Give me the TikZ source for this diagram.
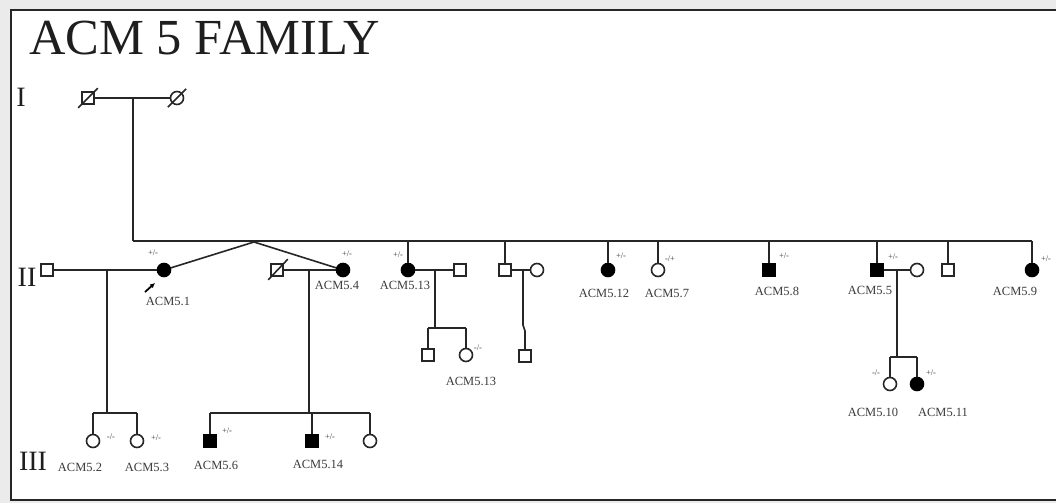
\documentclass[tikz,border=0pt]{standalone}
\usepackage{fontspec}
\setmainfont{Liberation Serif}
\usetikzlibrary{arrows.meta}
\definecolor{lc}{HTML}{262626}
\definecolor{bg}{HTML}{EBEBEB}
\definecolor{tx}{HTML}{1E1E1E}
\definecolor{lt}{HTML}{3C3C3C}
\newcommand\lblfont{\fontsize{12.5}{13}\selectfont}
\newcommand\genofont{\fontsize{8.5}{9}\selectfont}
\begin{document}
\begin{tikzpicture}[x=1pt,y=-1pt,
  ln/.style={draw=lc, line width=1.6pt},
  male/.style={rectangle, draw=lc, line width=1.6pt, fill=white, minimum size=12pt, inner sep=0pt},
  female/.style={circle, draw=lc, line width=1.6pt, fill=white, minimum size=13pt, inner sep=0pt},
  aff/.style={fill=black, draw=black},
  lbl/.style={font=\lblfont, text=lt, inner sep=0pt},
  geno/.style={font=\genofont, text=lt, inner sep=0pt},
  gen/.style={font=\fontsize{28}{28}\selectfont, text=tx, inner sep=0pt}]
\useasboundingbox (0,0) rectangle (1056,503);
\clip (0,0) rectangle (1056,503);
% background and frame
\fill[bg] (0,0) rectangle (1056,503);
\fill[white] (11,10) rectangle (1060,500);
\draw[draw=black!85, line width=2pt] (1060,10) -- (11,10) -- (11,500) -- (1060,500);
% title and generation labels
\node[anchor=base west, font=\fontsize{50.5}{51}\selectfont, text=tx, inner sep=0pt] (title) at (29,55) {ACM 5 FAMILY};
\node[gen] (g1) at (21,97) {I};
\node[gen] (g2) at (27,277) {II};
\node[gen] (g3) at (33,461) {III};

% ---------- Generation I ----------
\node[male] (i1) at (88,98) {};
\node[female] (i2) at (177,98) {};
\draw[ln] (i1) -- (i2);
\draw[ln] ([shift={(-3,3)}]i1.south west) -- ([shift={(3,-3)}]i1.north east);
\draw[ln] ([shift={(-4,4)}]i2.south west) -- ([shift={(4,-4)}]i2.north east);
\coordinate (m1) at (133,98);
\coordinate (s0) at (133,241);
\coordinate (s9) at (1032,241);
\draw[ln] (m1) -- (s0);
\draw[draw=lc, line width=2.4pt] (s0) -- (s9);

% ---------- Generation II ----------
\node[male] (h1) at (47,270) {};
\node[female, aff] (p1) at (164,270) {};
\node[male] (h4) at (277,270) {};
\node[female, aff] (p4) at (343,270) {};
\node[female, aff] (p13) at (408,270) {};
\node[male] (h13) at (460,270) {};
\node[male] (b1) at (505,270) {};
\node[female] (w1) at (537,270) {};
\node[female, aff] (p12) at (608,270) {};
\node[female] (p7) at (658,270) {};
\node[male, aff] (p8) at (769,270) {};
\node[male, aff] (p5) at (877,270) {};
\node[female] (w5) at (917,270) {};
\node[male] (b2) at (948,270) {};
\node[female, aff] (p9) at (1032,270) {};

% twin-like link
\coordinate (tw) at (254,242);
\draw[ln] (tw) -- (p1);
\draw[ln] (tw) -- (p4);
% drops from sibship
\coordinate (d13) at (408,241);
\coordinate (db1) at (505,241);
\coordinate (d12) at (608,241);
\coordinate (d7) at (658,241);
\coordinate (d8) at (769,241);
\coordinate (d5) at (877,241);
\coordinate (db2) at (948,241);
\draw[ln] (d13) -- (p13);
\draw[ln] (db1) -- (b1);
\draw[ln] (d12) -- (p12);
\draw[ln] (d7) -- (p7);
\draw[ln] (d8) -- (p8);
\draw[ln] (d5) -- (p5);
\draw[ln] (db2) -- (b2);
\draw[ln] (s9) -- (p9);
% marriages
\draw[ln] (h1) -- (p1);
\draw[ln] (h4) -- (p4);
\draw[ln] ([shift={(-2,3)}]h4.south west) -- ([shift={(4,-4)}]h4.north east);
\draw[ln] (p13) -- (h13);
\draw[ln] (b1) -- (w1);
\draw[ln] (p5) -- (w5);

% proband arrow
\coordinate (pa) at (145,292);
\coordinate (pb) at (155,283);
\draw[draw=black, line width=1.8pt, -{Latex[length=5pt,width=5pt]}] (pa) -- (pb);

% genotypes gen II
\node[geno] (t1) at (153,253) {+/-};
\node[geno] (t4) at (347,254) {+/-};
\node[geno] (t13) at (398,255) {+/-};
\node[geno] (t12) at (621,256) {+/-};
\node[geno] (t7) at (670,259) {-/+};
\node[geno] (t8) at (784,256) {+/-};
\node[geno] (t5) at (893,257) {+/-};
\node[geno] (t9) at (1046,259) {+/-};
% labels gen II
\node[lbl] (l1) at (168,301) {ACM5.1};
\node[lbl] (l4) at (337,285) {ACM5.4};
\node[lbl] (l13) at (405,285) {ACM5.13};
\node[lbl] (l12) at (604,293) {ACM5.12};
\node[lbl] (l7) at (667,293) {ACM5.7};
\node[lbl] (l8) at (777,291) {ACM5.8};
\node[lbl] (l5) at (870,290) {ACM5.5};
\node[lbl] (l9) at (1015,291) {ACM5.9};

% children of ACM5.13
\coordinate (m13) at (435,270);
\coordinate (k13) at (435,328);
\coordinate (k13a) at (428,328);
\coordinate (k13b) at (466,328);
\node[male] (c13a) at (428,355) {};
\node[female] (c13b) at (466,355) {};
\draw[ln] (m13) -- (k13);
\draw[ln] (k13a) -- (k13b);
\draw[ln] (k13a) -- (c13a);
\draw[ln] (k13b) -- (c13b);
\node[geno] (tc13) at (478,348) {-/-};
\node[lbl] (lc13) at (471,381) {ACM5.13};

% child of b1 x w1
\coordinate (mb) at (523,270);
\coordinate (jb1) at (523,325);
\coordinate (jb2) at (525,331);
\node[male] (cb) at (525,356) {};
\draw[ln] (mb) -- (jb1) -- (jb2) -- (cb);

% children of ACM5.5
\coordinate (m5) at (897,270);
\coordinate (k5) at (897,357);
\coordinate (k5a) at (890,357);
\coordinate (k5b) at (917,357);
\node[female] (c10) at (890,384) {};
\node[female, aff] (c11) at (917,384) {};
\draw[ln] (m5) -- (k5);
\draw[ln] (k5a) -- (k5b);
\draw[ln] (k5a) -- (c10);
\draw[ln] (k5b) -- (c11);
\node[geno] (t10) at (876,373) {-/-};
\node[geno] (t11) at (931,373) {+/-};
\node[lbl] (l10) at (873,412) {ACM5.10};
\node[lbl] (l11) at (943,412) {ACM5.11};

% ---------- Generation III ----------
\coordinate (m1b) at (107,270);
\coordinate (k1) at (107,413);
\coordinate (k1a) at (93,413);
\coordinate (k1b) at (137,413);
\node[female] (c2) at (93,441) {};
\node[female] (c3) at (137,441) {};
\draw[ln] (m1b) -- (k1);
\draw[ln] (k1a) -- (k1b);
\draw[ln] (k1a) -- (c2);
\draw[ln] (k1b) -- (c3);
\node[geno] (t2) at (111,437) {-/-};
\node[geno] (t3) at (156,438) {+/-};
\node[lbl] (l2) at (80,467) {ACM5.2};
\node[lbl] (l3) at (147,467) {ACM5.3};

\coordinate (m4) at (309,270);
\coordinate (k4) at (309,413);
\coordinate (k4a) at (210,413);
\coordinate (k4m) at (312,413);
\coordinate (k4b) at (370,413);
\node[male, aff] (c6) at (210,441) {};
\node[male, aff] (c14) at (312,441) {};
\node[female] (c15) at (370,441) {};
\draw[ln] (m4) -- (k4);
\draw[ln] (k4a) -- (k4b);
\draw[ln] (k4a) -- (c6);
\draw[ln] (k4m) -- (c14);
\draw[ln] (k4b) -- (c15);
\node[geno] (t6) at (227,431) {+/-};
\node[geno] (t14) at (330,437) {+/-};
\node[lbl] (l6) at (216,465) {ACM5.6};
\node[lbl] (l14) at (318,464) {ACM5.14};
\end{tikzpicture}
\end{document}
